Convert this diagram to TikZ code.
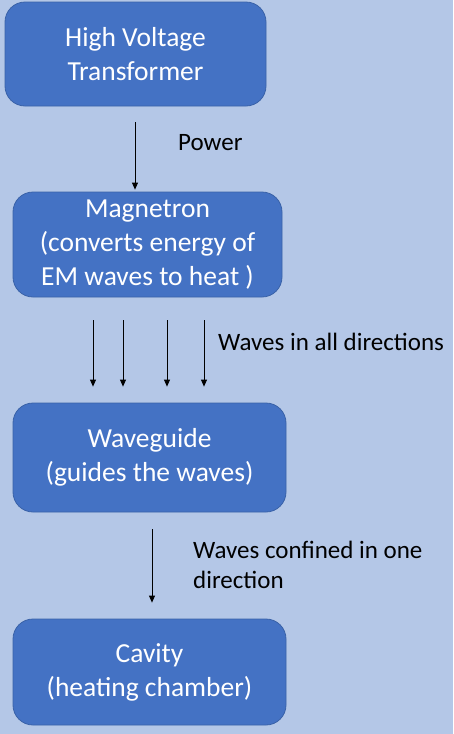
\documentclass[tikz,border=0pt]{standalone}
\usepackage{fontspec}
\setmainfont{Carlito}
\usetikzlibrary{arrows.meta}
\definecolor{bgblue}{HTML}{B4C7E7}
\definecolor{boxblue}{HTML}{4472C4}
\definecolor{boxedge}{HTML}{3A62A8}
\tikzset{
  blockbox/.style={draw=boxedge, line width=0.8pt, fill=boxblue, rounded corners=20pt,
    text=white, align=center, inner sep=0pt,
    font=\fontsize{27.5}{34}\selectfont},
  lbl/.style={text=black, align=left, anchor=west, inner sep=0pt,
    font=\fontsize{25}{30}\selectfont},
  arr/.style={draw=black, line width=0.8pt, -{Triangle[length=7pt,width=6pt]}}
}
\begin{document}
\begin{tikzpicture}[x=1pt,y=-1pt]
\fill[bgblue] (0,0) rectangle (453,734);
\useasboundingbox (0,0) rectangle (453,734);
\node[blockbox, minimum width=261pt, minimum height=104pt] (hv) at (135.5,54) {High Voltage\\Transformer};
\node[blockbox, minimum width=269pt, minimum height=105pt] (mg) at (147.5,244.5) {Magnetron\\(converts energy of\\EM waves to heat )};
\node[blockbox, minimum width=273pt, minimum height=109pt] (wg) at (149.5,457.5) {Waveguide\\(guides the waves)};
\node[blockbox, minimum width=273pt, minimum height=106pt] (cv) at (149.5,672) {Cavity\\(heating chamber)};
% connectors
\coordinate (x0) at (135,0);
\draw[arr, shorten <=16pt, shorten >=2pt] (hv.south -| x0) -- (mg.north -| x0);
\foreach \xx/\nm in {93/a1,123/a2,167/a3,204/a4}{
  \coordinate (\nm) at (\xx,0);
  \draw[arr, shorten <=23pt, shorten >=16pt] (mg.south -| \nm) -- (wg.north -| \nm);
}
\coordinate (x5) at (152,0);
\draw[arr, shorten <=17pt, shorten >=16pt] (wg.south -| x5) -- (cv.north -| x5);
% labels
\node[lbl] (lp) at (178,143) {Power};
\node[lbl] (lw) at (218,342) {Waves in all directions};
\node[lbl] (lc) at (193,565) {Waves confined in one\\direction};
\end{tikzpicture}
\end{document}
